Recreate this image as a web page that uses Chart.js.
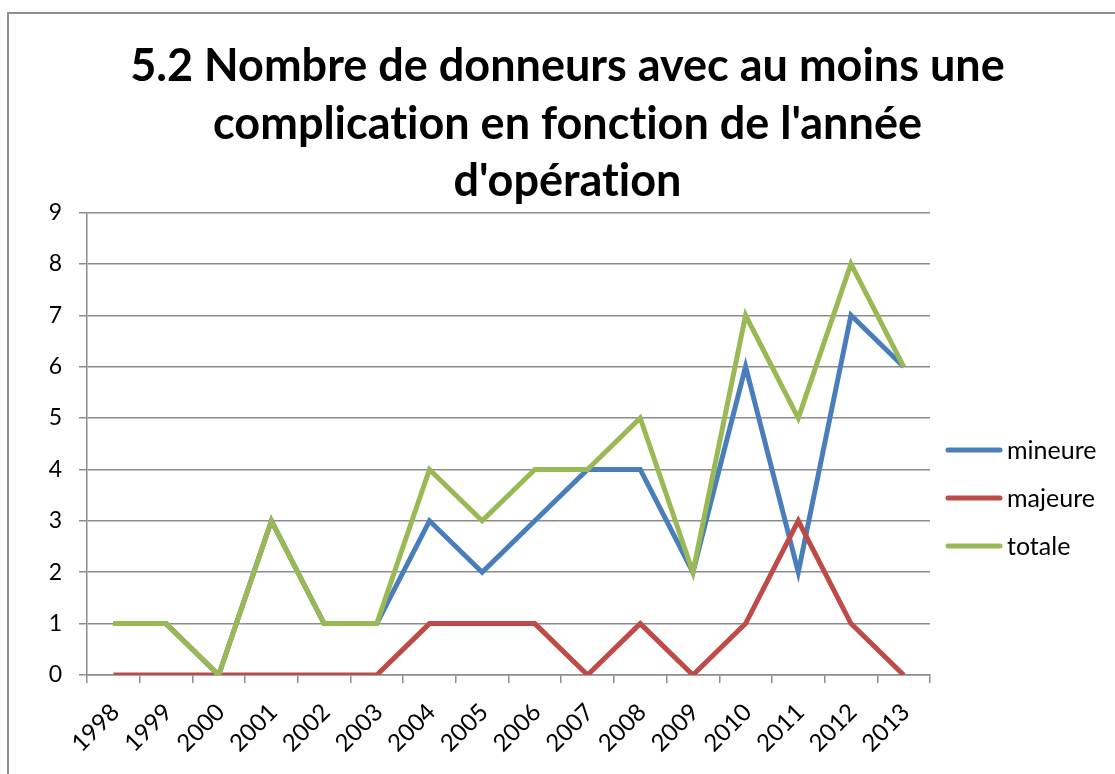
<!DOCTYPE html>
<html>
<head>
<meta charset="utf-8">
<script src="https://cdn.jsdelivr.net/npm/chart.js@4"></script>
<style>
  body { margin: 0; background: #fff; }
  #frame { position: absolute; left: 7px; top: 12px; width: 1200px; height: 900px;
           border-left: 2px solid #8e8e8e; border-top: 2px solid #8e8e8e; }
  canvas { position: absolute; left: 0; top: 0; }
</style>
</head>
<body>
<div id="frame"></div>
<canvas id="chart" width="1115" height="774"></canvas>
<script>
var years = ["1998", "1999", "2000", "2001", "2002", "2003", "2004", "2005",
  "2006", "2007", "2008", "2009", "2010", "2011", "2012", "2013"];
var mineure = [1, 1, 0, 3, 1, 1, 3, 2, 3, 4, 4, 2, 6, 2, 7, 6];
var majeure = [0, 0, 0, 0, 0, 0, 1, 1, 1, 0, 1, 0, 1, 3, 1, 0];
var totale  = [1, 1, 0, 3, 1, 1, 4, 3, 4, 4, 5, 2, 7, 5, 8, 6];
// \u200c keeps Lato from joining "ti" into a ligature
var titleLines = ["5.2 Nombre de donneurs avec au moins une",
  "complicat\u200cion en fonct\u200cion de l'année", "d'opérat\u200cion"];

var axisGrey = '#8c8c8c';
var font = "Lato";

// legend drawn by hand on the right, next to the plot
var sideLegend = {
  id: 'sideLegend',
  afterDraw: function(chart) {
    var c = chart.ctx;
    var ys = [450, 498, 546];
    c.save();
    c.font = '25px ' + font;
    c.textBaseline = 'middle';
    c.textAlign = 'left';
    chart.data.datasets.forEach(function(ds, i) {
      c.strokeStyle = ds.borderColor;
      c.lineWidth = 5;
      c.lineCap = 'round';
      c.beginPath();
      c.moveTo(948, ys[i]);
      c.lineTo(1000, ys[i]);
      c.stroke();
      c.fillStyle = '#000';
      c.fillText(ds.label, 1007, ys[i] + 1);
    });
    c.restore();
  }
};

new Chart(document.getElementById('chart'), {
  type: 'line',
  data: {
    labels: years,
    datasets: [
      { label: 'mineure', data: mineure, borderColor: '#4a7ebb', backgroundColor: '#4a7ebb', order: 3 },
      { label: 'majeure', data: majeure, borderColor: '#be4b48', backgroundColor: '#be4b48', order: 2 },
      { label: 'totale', data: totale, borderColor: '#98b954', backgroundColor: '#98b954', order: 1 }
    ]
  },
  options: {
    responsive: false,
    animation: false,
    layout: { padding: { left: 20, right: 0, top: 0, bottom: 0 } },
    elements: {
      line: { borderWidth: 5, tension: 0 },
      point: { radius: 0, hoverRadius: 0 }
    },
    plugins: {
      legend: { display: false },
      tooltip: { enabled: false },
      title: {
        display: true,
        text: titleLines,
        color: '#000',
        font: { family: font, size: 45, weight: 'bold', lineHeight: '57.5px' },
        padding: { top: 38, bottom: 2 }
      }
    },
    scales: {
      x: {
        offset: true,
        grid: { offset: true, drawOnChartArea: false, tickLength: 8, color: axisGrey, lineWidth: 1.5 },
        border: { color: axisGrey, width: 1.5 },
        ticks: { color: '#000', font: { family: font, size: 24 }, minRotation: 45, maxRotation: 45,
                 autoSkip: false, padding: 15, labelOffset: 2 },
        afterFit: function(s) { s.height = 99; }
      },
      y: {
        min: 0, max: 9,
        ticks: { stepSize: 1, color: '#000', font: { family: font, size: 23 }, padding: 17 },
        grid: { color: axisGrey, lineWidth: 1.5, tickLength: 8 },
        border: { color: axisGrey, width: 1.5 },
        afterFit: function(s) { s.width = 67; }
      },
      spacer: {
        position: 'right',
        display: true,
        grid: { display: false },
        border: { display: false },
        ticks: { display: false },
        afterFit: function(s) { s.width = 185; }
      }
    }
  },
  plugins: [sideLegend]
});
</script>
</body>
</html>
